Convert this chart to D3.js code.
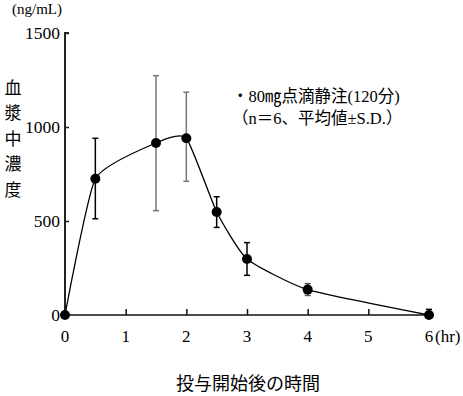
<!DOCTYPE html>
<html><head><meta charset="utf-8">
<script src="https://cdn.jsdelivr.net/npm/d3@7"></script>
<style>body{margin:0;background:#fff;}svg{display:block;}text{font-family:"Liberation Serif","Noto Sans CJK JP",serif;fill:#000;}</style>
</head><body>
<script>
const hours = [0, 0.5, 1.5, 2, 2.5, 3, 4, 6];
const meanConc = [0, 725, 915, 940, 548, 298, 135, 0];
const sdUpper = [0, 940, 1273, 1185, 629, 385, 167, 30];
const sdLower = [0, 512, 555, 711, 466, 211, 104, 0];
const sdColor = ["#000", "#000", "#777", "#777", "#000", "#000", "#555", "#000"];
const xTicks = [0, 1, 2, 3, 4, 5, 6];
const yTicks = [0, 500, 1000, 1500];
const yLabelChars = ["血", "漿", "中", "濃", "度"];
const legendLines = ["・80㎎点滴静注(120分)", "（n＝6、平均値±S.D.）"];

const W = 463, H = 396;
const svg = d3.select("body").append("svg").attr("width", W).attr("height", H);
const x = d3.scaleLinear().domain([0, 6]).range([65, 429]);
const y = d3.scaleLinear().domain([0, 1500]).range([315, 33]);

// y axis
const yAxis = svg.append("g").attr("transform", "translate(65,0)")
  .call(d3.axisRight(y).tickValues(yTicks).tickSize(4).tickFormat(""));
yAxis.select(".domain").attr("d", `M4,${y(1500)}H0V${y(0)}`).attr("stroke", "#222").attr("stroke-width", 2);
yAxis.selectAll(".tick line").attr("stroke", "#222").attr("stroke-width", 1.5);
yTicks.forEach(v => {
  svg.append("text").attr("x", 60).attr("y", y(v)).attr("dy", "0.35em")
    .attr("text-anchor", "end").attr("font-size", 17.5).text(v);
});

// x axis
const xAxis = svg.append("g").attr("transform", `translate(0,${y(0)})`)
  .call(d3.axisTop(x).tickValues(xTicks.filter(d => d > 0 && d < 6)).tickSize(6).tickFormat(""));
xAxis.select(".domain").attr("d", `M${x(0)},0H${x(6)}`).attr("stroke", "#111").attr("stroke-width", 1.5);
xAxis.selectAll(".tick line").attr("stroke", "#111").attr("stroke-width", 1.5);
xTicks.forEach(v => {
  svg.append("text").attr("x", x(v)).attr("y", 336).attr("dy", "0.35em")
    .attr("text-anchor", "middle").attr("font-size", 17).text(v);
});
svg.append("text").attr("x", x(6) + 6).attr("y", 336).attr("dy", "0.35em")
  .attr("font-size", 17).text("(hr)");

// units
svg.append("text").attr("x", 12).attr("y", 9).attr("dy", "0.35em").attr("font-size", 15).text("(ng/mL)");

// y label vertical
yLabelChars.forEach((c, i) => {
  svg.append("text").attr("x", 13).attr("y", 88 + i * 25.5).attr("dy", "0.35em")
    .attr("text-anchor", "middle").attr("font-size", 17).text(c);
});

// x title
svg.append("text").attr("x", 248).attr("y", 384).attr("dy", "0.35em")
  .attr("text-anchor", "middle").attr("font-size", 18).text("投与開始後の時間");

// legend
svg.append("text").attr("x", 232).attr("y", 96).attr("dy", "0.35em").attr("font-size", 16.5).text(legendLines[0]);
svg.append("text").attr("x", 232).attr("y", 118).attr("dy", "0.35em").attr("font-size", 16.5).text(legendLines[1]);

// error bars
const eb = svg.append("g");
hours.forEach((h, i) => {
  if (sdUpper[i] === sdLower[i]) return;
  const g = eb.append("g").attr("stroke", sdColor[i]).attr("stroke-width", 1.5);
  g.append("line").attr("x1", x(h)).attr("x2", x(h)).attr("y1", y(sdUpper[i])).attr("y2", y(sdLower[i]));
  g.append("line").attr("x1", x(h) - 3).attr("x2", x(h) + 3).attr("y1", y(sdUpper[i])).attr("y2", y(sdUpper[i]));
  if (sdLower[i] > 0)
    g.append("line").attr("x1", x(h) - 3).attr("x2", x(h) + 3).attr("y1", y(sdLower[i])).attr("y2", y(sdLower[i]));
});

// curve
const line = d3.line().x((d, i) => x(hours[i])).y(d => y(d)).curve(d3.curveCardinal.tension(0.5));
svg.append("path").attr("d", line(meanConc)).attr("fill", "none").attr("stroke", "#000").attr("stroke-width", 1.3);

// markers
svg.append("g").selectAll("circle").data(meanConc).join("circle")
  .attr("cx", (d, i) => x(hours[i])).attr("cy", d => y(d)).attr("r", 5).attr("fill", "#000");
</script>
</body></html>
